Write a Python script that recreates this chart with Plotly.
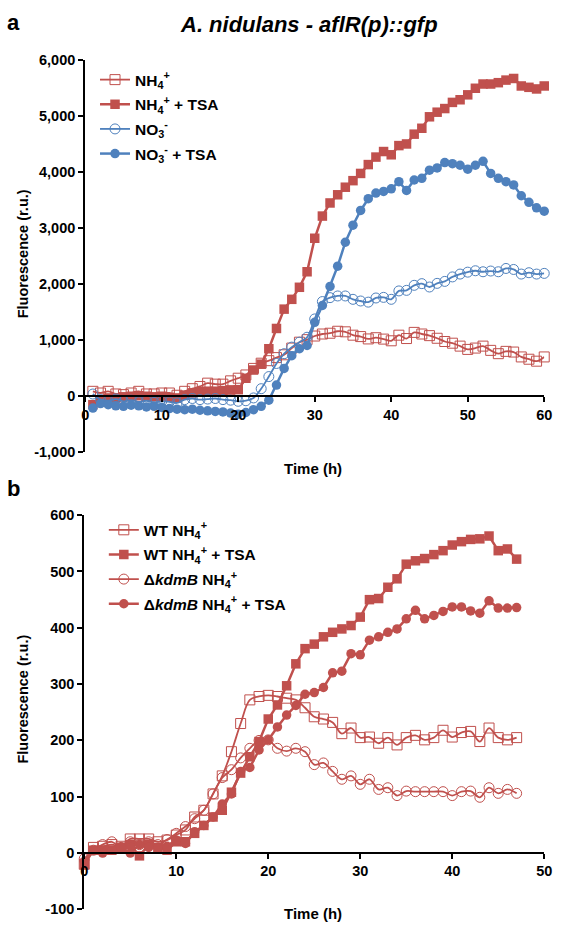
import plotly.graph_objects as go

# ---------------- data ----------------
time_a = list(range(1, 61))
nh4 = [88, 58, 88, 41, 29, 58, 88, 41, 41, 58, 58, 18, 88, 135, 175, 234, 216, 216, 275, 322,
       380, 497, 590, 635, 690, 740, 860, 965, 1010, 1075, 1111, 1125, 1160, 1150, 1090, 1065, 1023, 1045, 1020, 990,
       1090, 1030, 1140, 1111, 1082, 1035, 977, 947, 895, 836, 860, 895, 819, 760, 801, 789, 702, 661, 626, 702]
nh4_tsa = [-150, -80, -30, -30, -10, 0, 10, 0, -10, 0, -20, -30, 20, 60, 80, 90, 90, 100, 110, 118,
           321, 468, 573, 848, 1210, 1555, 1730, 1945, 2222, 2820, 3216, 3450, 3596, 3731, 3848, 3977, 4135, 4269, 4368, 4310,
           4474, 4503, 4678, 4783, 4988, 5070, 5135, 5245, 5292, 5380, 5497, 5573, 5573, 5597, 5643, 5672, 5538, 5514, 5485, 5538]
no3 = [40, -60, -80, -50, -90, -70, -100, -80, -110, -90, -100, -120, -60, -40, -60, -50, -40, -60, -70, -90,
       -80, -30, 135, 351, 585, 760, 877, 965, 1053, 1380, 1690, 1760, 1790, 1790, 1730, 1700, 1680, 1754, 1765, 1730,
       1880, 1890, 1980, 2010, 1950, 2015, 2050, 2130, 2181, 2215, 2240, 2222, 2235, 2222, 2281, 2263, 2181, 2205, 2181, 2193]
no3_tsa = [-210, -130, -150, -170, -180, -160, -170, -190, -180, -200, -220, -230, -240, -230, -250, -260, -270, -280, -300, -320,
           -290, -240, -180, -70, 200, 497, 725, 848, 906, 1320, 1620, 1960, 2322, 2749, 3053, 3316, 3526, 3626, 3655, 3702,
           3830, 3673, 3860, 3889, 4035, 4076, 4170, 4152, 4123, 4053, 4123, 4193, 3977, 3889, 3830, 3772, 3579, 3462, 3363, 3304]

time_b = list(range(0, 48))
wt_nh4 = [-20, 10, 12, 15, 12, 25, 25, 25, 20, 23, 32, 41, 64, 76, 105, 137, 180, 230, 272, 278,
          280, 278, 275, 272, 258, 242, 238, 232, 212, 222, 205, 206, 195, 205, 192, 205, 209, 201, 205, 218,
          206, 214, 216, 198, 222, 205, 201, 205]
wt_nh4_tsa = [-20, 5, 5, 5, 10, 15, -5, 15, 10, 5, 20, 20, 35, 49, 64, 76, 108, 142, 171, 198,
              238, 263, 297, 336, 363, 371, 384, 392, 398, 404, 419, 450, 452, 472, 487, 513, 519, 523, 530, 537,
              547, 553, 557, 558, 563, 537, 540, 522]
kdmb_nh4 = [-10, 5, 15, 20, 10, 20, 15, 20, 15, 24, 35, 47, 61, 76, 105, 134, 148, 169, 186, 200,
            201, 186, 181, 186, 180, 157, 160, 145, 131, 137, 122, 131, 113, 116, 102, 110, 109, 109, 109, 109,
            102, 109, 110, 99, 116, 106, 113, 106]
kdmb_nh4_tsa = [-15, 5, 0, 5, 10, 0, 15, 10, 10, 12, 23, 17, 38, 49, 64, 87, 105, 145, 152, 183,
                201, 224, 245, 262, 282, 285, 294, 320, 323, 354, 352, 378, 384, 392, 398, 416, 431, 416, 422, 429,
                437, 437, 430, 426, 448, 435, 435, 436]

ya_ticks = [-1000, 0, 1000, 2000, 3000, 4000, 5000, 6000]
ya_labels = ["-1,000", "0", "1,000", "2,000", "3,000", "4,000", "5,000", "6,000"]
yb_ticks = [-100, 0, 100, 200, 300, 400, 500, 600]
yb_labels = ["-100", "0", "100", "200", "300", "400", "500", "600"]
xa_ticks = [0, 10, 20, 30, 40, 50, 60]
xb_ticks = [0, 10, 20, 30, 40, 50]

# ---------------- style ----------------
RED = "#C0504D"
BLUE = "#4F81BD"
FONT = "Liberation Sans, Arial, sans-serif"
W, H = 563, 937

def px_x(p):
    return p / W

def px_y(p):
    return 1 - p / H

fig = go.Figure()

def add(x, y, name, color, symbol, filled, xa, ya, legend):
    fig.add_trace(go.Scatter(
        x=x, y=y, name=name, mode="lines+markers",
        xaxis=xa, yaxis=ya, legend=legend, legendgroup=name,
        cliponaxis=False,
        line=dict(color=color, width=2.5 if filled else 1.8,
                  shape="linear" if filled else "spline"),
        marker=dict(symbol=symbol, size=9.5 if filled else 10, color=color,
                    line=dict(width=0 if filled else 1, color=color)),
    ))

add(time_a, nh4, "NH<sub>4</sub><sup>+</sup>", RED, "square-open", False, "x", "y", "legend")
add(time_a, nh4_tsa, "NH<sub>4</sub><sup>+</sup> + TSA", RED, "square", True, "x", "y", "legend")
add(time_a, no3, "NO<sub>3</sub><sup>-</sup>", BLUE, "circle-open", False, "x", "y", "legend")
add(time_a, no3_tsa, "NO<sub>3</sub><sup>-</sup> + TSA", BLUE, "circle", True, "x", "y", "legend")

add(time_b, wt_nh4, "WT NH<sub>4</sub><sup>+</sup>", RED, "square-open", False, "x2", "y2", "legend2")
add(time_b, wt_nh4_tsa, "WT NH<sub>4</sub><sup>+</sup> + TSA", RED, "square", True, "x2", "y2", "legend2")
add(time_b, kdmb_nh4, "Δ<i>kdmB</i> NH<sub>4</sub><sup>+</sup>", RED, "circle-open", False, "x2", "y2", "legend2")
add(time_b, kdmb_nh4_tsa, "Δ<i>kdmB</i> NH<sub>4</sub><sup>+</sup> + TSA", RED, "circle", True, "x2", "y2", "legend2")

tickfont = dict(family=FONT, size=14.5, color="black", weight="bold")

ya_dom = [px_y(452), px_y(53)]
yb_dom = [px_y(917), px_y(516)]
ya_rng = [-1000, 6000]
yb_rng = [-100, 600]
pos_a = ya_dom[0] + (0 - ya_rng[0]) / (ya_rng[1] - ya_rng[0]) * (ya_dom[1] - ya_dom[0])
pos_b = yb_dom[0] + (0 - yb_rng[0]) / (yb_rng[1] - yb_rng[0]) * (yb_dom[1] - yb_dom[0])

axis_common = dict(showgrid=False, zeroline=False, showline=True, linecolor="black",
                   linewidth=2, ticks="outside", ticklen=5, tickwidth=2, tickcolor="black",
                   tickfont=tickfont, ticklabeloverflow="allow")

legend_font = dict(family=FONT, size=15.5, color="black", weight="bold")

fig.update_layout(
    width=W, height=H,
    margin=dict(l=0, r=0, t=0, b=0),
    paper_bgcolor="white", plot_bgcolor="white",
    font=dict(family=FONT, color="black"),
    xaxis=dict(domain=[px_x(83), px_x(552)], range=[0, 60], anchor="free", position=pos_a,
               tickvals=xa_ticks, **axis_common),
    yaxis=dict(domain=ya_dom, range=ya_rng, anchor="x", tickvals=ya_ticks, ticktext=ya_labels,
               **axis_common),
    xaxis2=dict(domain=[px_x(82), px_x(552)], range=[0, 50], anchor="free", position=pos_b,
                tickvals=xb_ticks, **axis_common),
    yaxis2=dict(domain=yb_dom, range=yb_rng, anchor="x2", tickvals=yb_ticks, ticktext=yb_labels,
                **axis_common),
    legend=dict(x=px_x(93), y=px_y(56), xanchor="left", yanchor="top",
                bgcolor="rgba(0,0,0,0)", tracegroupgap=1.5, itemwidth=30, font=legend_font),
    legend2=dict(x=px_x(102), y=px_y(514), xanchor="left", yanchor="top",
                 bgcolor="rgba(0,0,0,0)", tracegroupgap=1.5, itemwidth=30, font=legend_font),
    showlegend=True,
)

ann_font = dict(family=FONT, color="black", weight="bold")
annotations = [
    dict(text="<i>A. nidulans - aflR(p)::gfp</i>", x=px_x(312), y=px_y(17),
         font=dict(size=22, **ann_font)),
    dict(text="a", x=px_x(10), y=px_y(15), font=dict(size=22, **ann_font)),
    dict(text="b", x=px_x(10), y=px_y(489), font=dict(size=22, **ann_font)),
    dict(text="Time (h)", x=px_x(316), y=px_y(469), font=dict(size=15, **ann_font)),
    dict(text="Time (h)", x=px_x(316), y=px_y(921), font=dict(size=15, **ann_font)),
    dict(text="Fluorescence (r.u.)", x=px_x(19), y=px_y(250), textangle=-90,
         font=dict(size=14.5, **ann_font)),
    dict(text="Fluorescence (r.u.)", x=px_x(19), y=px_y(703), textangle=-90,
         font=dict(size=14.5, **ann_font)),
]
for a in annotations:
    a.update(xref="paper", yref="paper", showarrow=False, xanchor="center", yanchor="middle")
fig.update_layout(annotations=annotations)

fig.write_html(
    "out.html",
    config={"displayModeBar": False},
    post_script="document.body.style.margin='0';document.body.style.overflow='hidden';",
)
